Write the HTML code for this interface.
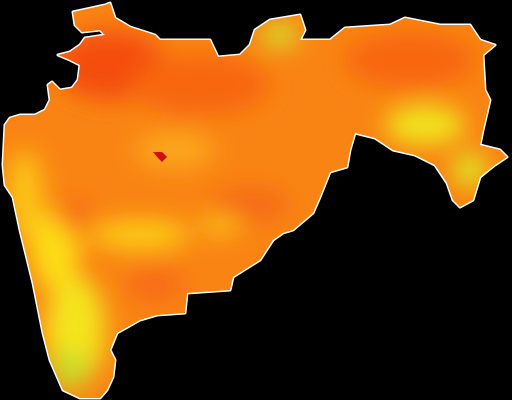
<!DOCTYPE html>
<html><head><meta charset="utf-8"><style>
html,body{margin:0;padding:0;background:#000;}
svg{display:block}
</style></head><body>
<svg width="512" height="400" viewBox="0 0 512 400">
<defs>
<clipPath id="state">
<polygon points="73,12 105,5 110,3 115,18 130,27 155,35 160,40 210,40 218,57 240,55 250,45 255,30 270,20 300,15 305,30 300,40 330,40 345,28 390,25 405,18 440,25 470,25 480,40 495,45 483,55 485,90 490,100 483,130 480,145 500,150 507,157 495,165 480,177 473,200 460,207 453,200 447,183 435,165 415,155 393,150 375,138 355,133 350,150 347,167 330,172 320,197 313,213 293,230 283,233 273,240 260,260 233,277 230,290 187,293 185,313 157,315 140,320 117,333 110,350 115,360 113,377 107,390 100,398 80,398 63,390 50,360 43,333 33,283 20,230 13,197 5,185 3,165 5,125 10,118 20,115 35,115 45,110 50,100 48,85 52,82 60,90 72,88 78,80 80,65 70,60 58,55 70,52 80,45 85,38 105,35 100,30 82,32 75,25"/>
</clipPath>
<filter id="blur" x="-20%" y="-20%" width="140%" height="140%"><feGaussianBlur stdDeviation="12"/></filter>
</defs>
<polygon points="73,12 105,5 110,3 115,18 130,27 155,35 160,40 210,40 218,57 240,55 250,45 255,30 270,20 300,15 305,30 300,40 330,40 345,28 390,25 405,18 440,25 470,25 480,40 495,45 483,55 485,90 490,100 483,130 480,145 500,150 507,157 495,165 480,177 473,200 460,207 453,200 447,183 435,165 415,155 393,150 375,138 355,133 350,150 347,167 330,172 320,197 313,213 293,230 283,233 273,240 260,260 233,277 230,290 187,293 185,313 157,315 140,320 117,333 110,350 115,360 113,377 107,390 100,398 80,398 63,390 50,360 43,333 33,283 20,230 13,197 5,185 3,165 5,125 10,118 20,115 35,115 45,110 50,100 48,85 52,82 60,90 72,88 78,80 80,65 70,60 58,55 70,52 80,45 85,38 105,35 100,30 82,32 75,25" fill="#fff" stroke="#fff" stroke-width="3" stroke-linejoin="round"/>
<g clip-path="url(#state)">
<rect x="0" y="0" width="512" height="400" fill="#f98414"/>
<g filter="url(#blur)">
<ellipse cx="110" cy="65" rx="55" ry="35" fill="#f44e0c"/>
<ellipse cx="200" cy="85" rx="70" ry="30" fill="#f8660c"/>
<ellipse cx="410" cy="60" rx="65" ry="28" fill="#f8660c"/>
<ellipse cx="280" cy="35" rx="20" ry="12" fill="#d6e22a"/>
<ellipse cx="425" cy="125" rx="40" ry="20" fill="#f0e41e"/>
<ellipse cx="470" cy="170" rx="18" ry="18" fill="#e0e224"/>
<ellipse cx="175" cy="150" rx="40" ry="18" fill="#fca81a"/>
<ellipse cx="25" cy="195" rx="18" ry="45" fill="#fcc418"/>
<ellipse cx="55" cy="250" rx="25" ry="40" fill="#fcdc18"/>
<ellipse cx="140" cy="235" rx="50" ry="15" fill="#fccc18"/>
<ellipse cx="75" cy="330" rx="30" ry="55" fill="#f4e41c"/>
<ellipse cx="70" cy="370" rx="20" ry="20" fill="#c8dc2a"/>
<ellipse cx="155" cy="285" rx="30" ry="18" fill="#f86c12"/>
<ellipse cx="250" cy="205" rx="40" ry="18" fill="#f66c12"/>
<ellipse cx="220" cy="225" rx="22" ry="10" fill="#fcc018"/>
<ellipse cx="75" cy="215" rx="18" ry="18" fill="#f87012"/>
</g>
<path d="M153,152 L162,152 L167,157 L162,162 L158,158 Z" fill="#d01010"/>
</g>
</svg>
</body></html>
